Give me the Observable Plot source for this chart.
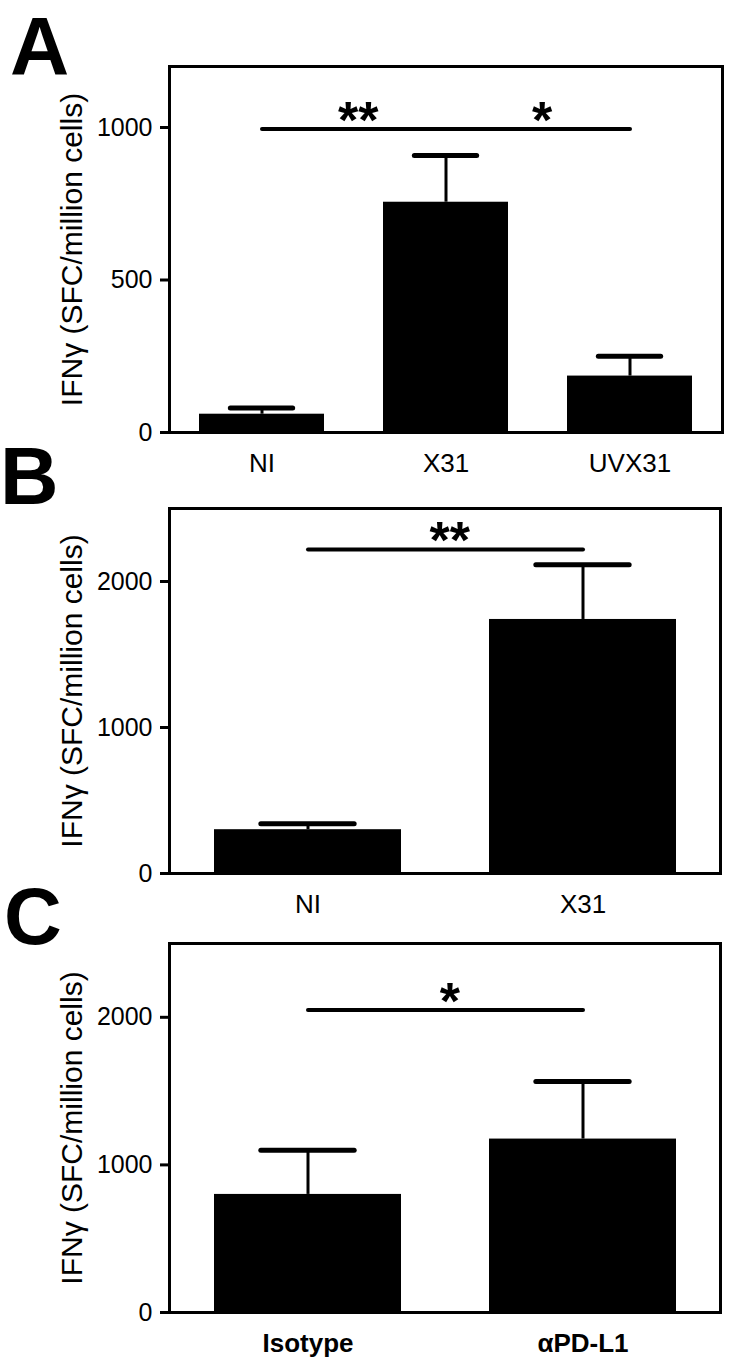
<!DOCTYPE html>
<html>
<head>
<meta charset="utf-8">
<script src="https://cdn.jsdelivr.net/npm/d3@7"></script>
<script src="https://cdn.jsdelivr.net/npm/@observablehq/plot@0.6"></script>
<style>
  html, body { margin: 0; padding: 0; background: #fff; }
  #wrap { position: relative; width: 733px; height: 1365px; overflow: hidden; background: #fff; }
  .panel { position: absolute; left: 0; }
  .letter { position: absolute; font-family: "Liberation Sans", Arial, Helvetica, sans-serif; font-weight: bold; line-height: 1; color: #000; }
</style>
</head>
<body>
<div id="wrap"></div>
<script>
// ---- Data ----
const yTitle = "IFNγ (SFC/million cells)";

// Panel A
const catsA = ["NI", "X31", "UVX31"];
const meanA = [60, 755, 185];
const errA = [80, 908, 250];
const ticksA = [0, 500, 1000];
const yMaxA = 1200;
const sigA = [
  {from: "NI", to: "X31", y: 995, label: "**"},
  {from: "X31", to: "UVX31", y: 995, label: "*"}
];

// Panel B
const catsB = ["NI", "X31"];
const meanB = [300, 1740];
const errB = [340, 2115];
const ticksB = [0, 1000, 2000];
const yMaxB = 2500;
const sigB = [{from: "NI", to: "X31", y: 2220, label: "**"}];

// Panel C
const catsC = ["Isotype", "αPD-L1"];
const meanC = [800, 1175];
const errC = [1100, 1565];
const ticksC = [0, 1000, 2000];
const yMaxC = 2500;
const sigC = [{from: "Isotype", to: "αPD-L1", y: 2050, label: "*"}];

// ---- Drawing ----
const FONT = '"Liberation Sans", Arial, Helvetica, sans-serif';
const wrap = document.getElementById("wrap");

function panel({cats, means, errs, sigs, yMax, ticks, top, height, mt, mb, mr, boldX}) {
  const width = 733, ml = 169;
  const W = width - ml - mr;
  const step = W / cats.length;
  const bw = step * 0.68;
  const capInset = bw / 4;
  const data = cats.map((c, i) => ({cat: c, mean: means[i], err: errs[i]}));
  const idx = (c) => cats.indexOf(c);
  const starData = sigs.map(s => ({...s, mid: s.from, off: (idx(s.to) - idx(s.from)) * step / 2}));

  const chart = Plot.plot({
    width, height,
    marginTop: mt, marginBottom: mb, marginLeft: ml, marginRight: mr,
    style: {fontFamily: FONT, background: "transparent", color: "#000", overflow: "visible"},
    x: {domain: cats, paddingInner: 0.32, paddingOuter: 0.16, label: null, axis: null},
    y: {domain: [0, yMax], label: null, axis: null},
    marks: [
      Plot.barY(data, {x: "cat", y: "mean", fill: "#000"}),
      Plot.ruleX(data, {x: "cat", y1: "mean", y2: "err", stroke: "#000", strokeWidth: 3}),
      Plot.tickY(data, {x: "cat", y: "err", stroke: "#000", strokeWidth: 5, strokeLinecap: "round",
                        insetLeft: capInset, insetRight: capInset}),
      Plot.link(sigs, {x1: "from", x2: "to", y1: "y", y2: "y", stroke: "#000", strokeWidth: 4,
                       strokeLinecap: "round"}),
      ...starData.map(s => Plot.text([s], {x: "mid", y: "y", text: "label", dx: s.off + 4, dy: -8,
                        fontSize: 52, fontWeight: "bold", fill: "#000"})),
      Plot.axisY({ticks, tickSize: 9, tickPadding: 8, strokeWidth: 3, fontSize: 25, label: null,
                  tickFormat: d => String(d)}),
      Plot.axisX({tickSize: 0, tickPadding: 21, fontSize: 26, fontWeight: boldX ? "bold" : "normal", label: null}),
      Plot.text([yTitle], {frameAnchor: "left", textAnchor: "middle", rotate: -90, dx: -97, fontSize: 30, fill: "#000"}),
      Plot.frame({stroke: "#000", strokeWidth: 3})
    ]
  });
  chart.classList.add("panel");
  chart.style.top = top + "px";
  wrap.appendChild(chart);
}

panel({cats: catsA, means: meanA, errs: errA, sigs: sigA, yMax: yMaxA, ticks: ticksA,
       top: 0, height: 480, mt: 66, mb: 48, mr: 11, boldX: false});
panel({cats: catsB, means: meanB, errs: errB, sigs: sigB, yMax: yMaxB, ticks: ticksB,
       top: 440, height: 470, mt: 68, mb: 37, mr: 13, boldX: false});
panel({cats: catsC, means: meanC, errs: errC, sigs: sigC, yMax: yMaxC, ticks: ticksC,
       top: 880, height: 485, mt: 63, mb: 53, mr: 13, boldX: true});

function letter(t, left, top, size) {
  const d = document.createElement("div");
  d.className = "letter";
  d.textContent = t;
  d.style.left = left + "px";
  d.style.top = top + "px";
  d.style.fontSize = size + "px";
  wrap.appendChild(d);
}
letter("A", 10, 5, 82);
letter("B", 0, 436, 81);
letter("C", 4, 877, 80);
</script>
</body>
</html>
